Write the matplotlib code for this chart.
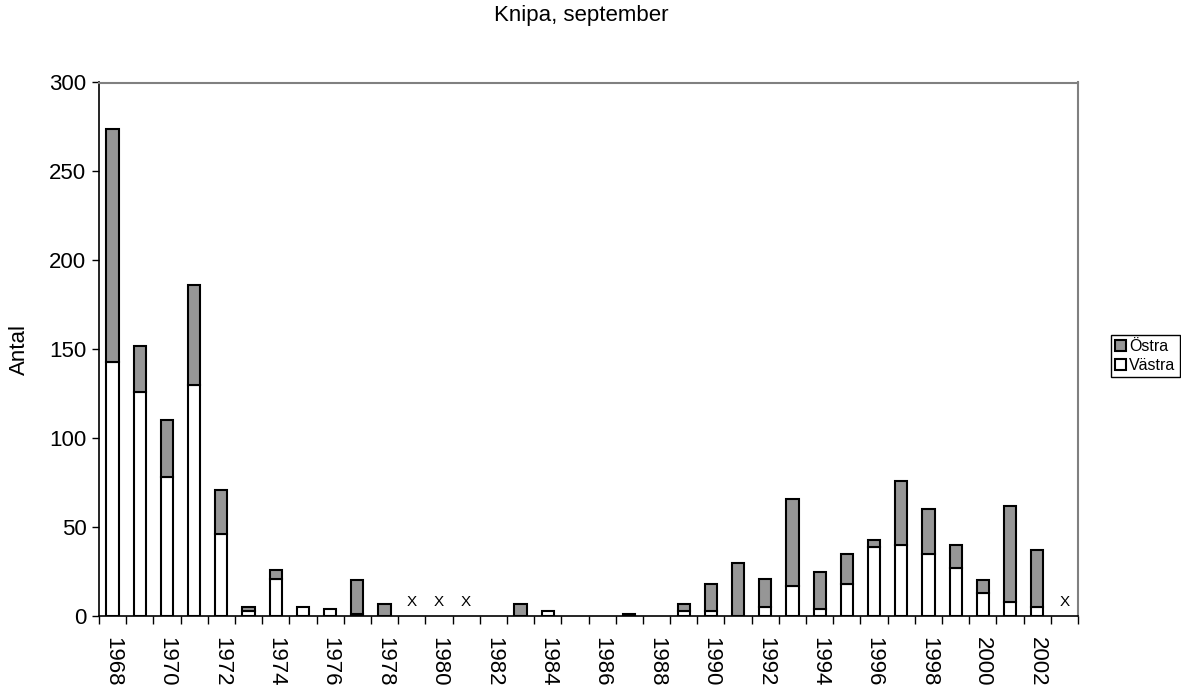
import numpy as np
import matplotlib.pyplot as plt

plt.rcParams['font.family'] = ['Liberation Sans', 'DejaVu Sans']

years = list(range(1968, 2004))
# Västra (white, bottom) and Östra (grey, top); None = not counted (X)
vastra = [143, 126, 78, 130, 46, 3, 21, 5, 4, 1, 0, None, None, None, 0, 0, 3, 0, 0, 0, 0, 3,
          3, 0, 5, 17, 4, 18, 39, 40, 35, 27, 13, 8, 5, None]
ostra = [131, 26, 32, 56, 25, 2, 5, 0, 0, 19, 7, None, None, None, 0, 7, 0, 0, 0, 1, 0, 4,
         15, 30, 16, 49, 21, 17, 4, 36, 25, 13, 7, 54, 32, None]

x = np.arange(len(years))
v = np.array([0 if a is None else a for a in vastra], dtype=float)
o = np.array([0 if a is None else a for a in ostra], dtype=float)
missing = [i for i, a in enumerate(vastra) if a is None]

fig = plt.figure(figsize=(11.81, 6.89), dpi=100)
ax = fig.add_axes([99 / 1181, 1 - 616 / 689, 979 / 1181, 533.5 / 689])

w = 0.45
vm = v > 0
om = o > 0
ax.bar(x[vm], v[vm], w, color='white', edgecolor='black', linewidth=1.5, label='Västra')
ax.bar(x[om], o[om], w, bottom=v[om], color='#969696', edgecolor='black', linewidth=1.5,
       label='Östra')

for i in missing:
    ax.text(x[i], 8, 'X', ha='center', va='center', fontsize=11)

ax.set_xlim(-0.5, len(years) - 0.5)
ax.set_ylim(0, 300)
ax.set_yticks(range(0, 301, 50))
ax.set_xticks(x[::2])
ax.set_xticklabels([str(y) for y in years[::2]], rotation=-90)
ax.set_xticks(np.arange(-0.5, len(years), 1), minor=True)
ax.tick_params(axis='x', which='major', length=0, labelsize=16, pad=15)
ax.tick_params(axis='x', which='minor', length=6, width=1, direction='out')
ax.tick_params(axis='y', length=5, width=1, labelsize=16, pad=4)

for s in ['top', 'right']:
    ax.spines[s].set_color('#808080')
    ax.spines[s].set_linewidth(1.5)
for s in ['left', 'bottom']:
    ax.spines[s].set_color('black')
    ax.spines[s].set_linewidth(1.2)

ax.set_ylabel('Antal', fontsize=16, labelpad=14)
fig.text(581 / 1181, 1 - 15 / 689, 'Knipa, september', ha='center', va='center', fontsize=16)

h, l = ax.get_legend_handles_labels()
leg = fig.legend(h[::-1], l[::-1], loc='center left', bbox_to_anchor=(1111 / 1181, 1 - 356 / 689),
                 fontsize=11.5, frameon=True, fancybox=False, edgecolor='black', framealpha=1,
                 handlelength=0.7, handleheight=0.7, handletextpad=0.2, borderpad=0.25,
                 labelspacing=0.25, borderaxespad=0)
leg.get_frame().set_linewidth(1)

fig.savefig('out.png', dpi=100)
